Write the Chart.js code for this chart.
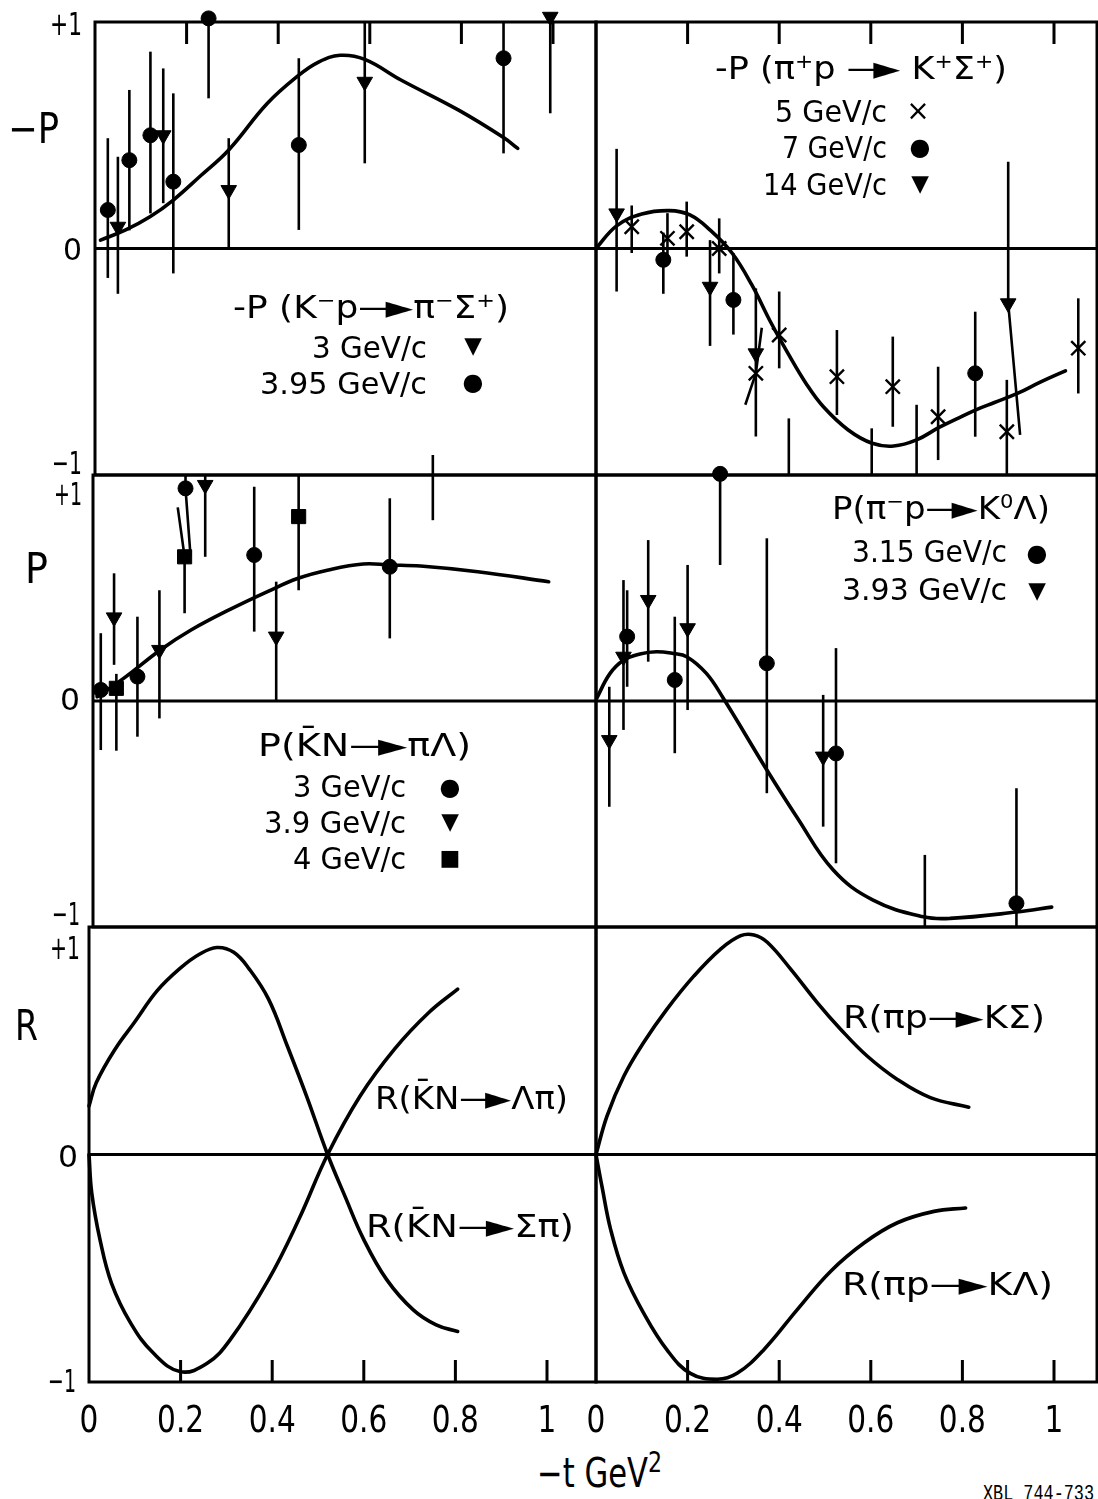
<!DOCTYPE html>
<html>
<head>
<meta charset="utf-8">
<script src="https://cdn.jsdelivr.net/npm/chart.js@4.4.1/dist/chart.umd.min.js"></script>
<style>
  html, body { margin: 0; padding: 0; background: #fff; }
  #page { position: relative; width: 1098px; height: 1499px; overflow: hidden; background: #fff; }
  #page canvas { position: absolute; }
  .t { position: absolute; white-space: nowrap; font-family: "DejaVu Sans", sans-serif; color: #000;
       line-height: 1; transform-origin: 0 50%; }
  .t sup { font-size: 0.62em; position: relative; top: -0.55em; vertical-align: baseline; line-height: 0; }
  .t sup.big { font-size: 0.72em; top: -0.5em; }
  .dash { margin-right: -0.24em; }
  .mk { position: absolute; font-family: "DejaVu Sans", sans-serif; line-height: 1; color: #000;
        transform: translate(-50%, -50%); }
</style>
</head>
<body>
<div id="page"></div>
<script>
const INK = '#000';

// ---------- x ticks (-t, GeV^2) ----------
const tickMarks = [0.2, 0.4, 0.6, 0.8, 1.0];
const tickVals  = [0, 0.2, 0.4, 0.6, 0.8, 1.0];
const tickText  = ['0', '0.2', '0.4', '0.6', '0.8', '1'];

// ---------- -P(K- p -> pi- Sigma+) ----------
// 3 GeV/c (triangles)
const km3T  = [0.050, 0.149, 0.292, 0.589, 0.994];
const km3P  = [0.096, 0.500, 0.258, 0.736, 1.023];
const km3Hi = [0.405, 0.795, 0.487, 1.000, 1.040];
const km3Lo = [-0.200, 0.200, 0.000, 0.376, 0.597];
// 3.95 GeV/c (circles)
const km395T  = [0.028, 0.075, 0.121, 0.171, 0.248, 0.445, 0.892];
const km395P  = [0.170, 0.390, 0.500, 0.295, 1.016, 0.457, 0.840];
const km395Hi = [0.487, 0.700, 0.869, 0.685, 1.040, 0.840, 1.000];
const km395Lo = [-0.130, 0.080, 0.155, -0.110, 0.663, 0.082, 0.420];
// model curve
const kmFitT = [0.012, 0.067, 0.120, 0.171, 0.230, 0.292, 0.376, 0.445, 0.487, 0.535, 0.589, 0.668, 0.794, 0.892, 0.923];
const kmFitP = [0.037, 0.082, 0.140, 0.214, 0.320, 0.435, 0.640, 0.765, 0.822, 0.853, 0.835, 0.744, 0.611, 0.490, 0.442];

// ---------- -P(pi+ p -> K+ Sigma+) ----------
// 5 GeV/c (crosses)
const pp5T   = [0.078, 0.156, 0.198, 0.269, 0.349, 0.400, 0.526, 0.648, 0.747, 0.897, 1.053];
const pp5P   = [0.096, 0.045, 0.074, 0.000, -0.551, -0.382, -0.566, -0.610, -0.743, -0.809, -0.440];
const pp5Hi  = [0.190, 0.156, 0.207, 0.133, -0.350, -0.190, -0.360, -0.389, -0.522, -0.580, -0.220];
const pp5Lo  = [-0.020, -0.030, -0.036, -0.110, -0.690, -0.529, -0.735, -0.787, -0.934, -1.000, -0.640];
const pp5HiT = [null, null, null, null, 0.362, null, null, null, null, null, null];
const pp5LoT = [null, null, null, null, 0.326, null, null, null, null, null, null];
// 7 GeV/c (circles)
const pp7T  = [0.147, 0.300, 0.828];
const pp7P  = [-0.050, -0.227, -0.551];
const pp7Hi = [0.070, -0.020, -0.279];
const pp7Lo = [-0.200, -0.380, -0.831];
// 14 GeV/c (triangles)
const pp14T   = [0.045, 0.249, 0.349, 0.900];
const pp14P   = [0.155, -0.169, -0.463, -0.242];
const pp14Hi  = [0.440, 0.037, -0.176, 0.383];
const pp14Lo  = [-0.190, -0.430, -0.830, -0.823];
const pp14LoT = [null, null, null, 0.926];
// error bars whose points fall below -1
const ppOffT  = [0.421, 0.602, 0.700];
const ppOffHi = [-0.750, -0.794, -0.690];
const ppOffLo = [-1.000, -1.000, -1.000];
// model curve
const ppFitT = [0, 0.045, 0.100, 0.160, 0.205, 0.250, 0.297, 0.340, 0.380, 0.417, 0.460, 0.497, 0.550, 0.603, 0.650, 0.700, 0.749, 0.800, 0.832, 0.870, 0.920, 0.970, 1.025];
const ppFitP = [0, 0.100, 0.152, 0.167, 0.148, 0.080, -0.020, -0.160, -0.320, -0.455, -0.600, -0.700, -0.800, -0.860, -0.872, -0.845, -0.790, -0.740, -0.710, -0.680, -0.640, -0.590, -0.540];

// ---------- P(Kbar N -> pi Lambda) ----------
// 3 GeV/c (circles)
const kb3T   = [0.017, 0.097, 0.202, 0.352, 0.648];
const kb3P   = [0.049, 0.108, 0.941, 0.646, 0.594];
const kb3Hi  = [0.300, 0.373, 1.000, 0.948, 0.897];
const kb3Lo  = [-0.217, -0.158, 0.640, 0.307, 0.277];
const kb3LoT = [null, null, 0.213, null, null];
// 3.9 GeV/c (triangles)
const kb39T  = [0.046, 0.145, 0.245, 0.400, 0.742];
const kb39P  = [0.370, 0.226, 0.956, 0.285, 1.060];
const kb39Hi = [0.565, 0.490, 1.000, 0.528, 1.090];
const kb39Lo = [0.160, -0.077, 0.638, 0.000, 0.800];
// 4 GeV/c (squares)
const kb4T   = [0.051, 0.200, 0.449];
const kb4P   = [0.056, 0.638, 0.816];
const kb4Hi  = [0.120, 0.857, 1.000];
const kb4Lo  = [-0.220, 0.388, 0.490];
const kb4HiT = [null, 0.185, null];
// model curve
const kbFitT = [0.009, 0.072, 0.147, 0.214, 0.297, 0.381, 0.448, 0.514, 0.590, 0.648, 0.715, 0.840, 0.995];
const kbFitP = [0.019, 0.108, 0.226, 0.314, 0.403, 0.484, 0.543, 0.580, 0.606, 0.602, 0.597, 0.572, 0.528];

// ---------- P(pi- p -> K0 Lambda) ----------
// 3.15 GeV/c (circles)
const pm315T  = [0.068, 0.172, 0.271, 0.373, 0.524, 0.918];
const pm315P  = [0.285, 0.093, 1.005, 0.167, -0.232, -0.895];
const pm315Hi = [0.490, 0.373, 1.000, 0.720, 0.234, -0.386];
const pm315Lo = [0.063, -0.231, 0.602, -0.408, -0.718, -1.000];
// 3.93 GeV/c (triangles)
const pm393T  = [0.029, 0.060, 0.114, 0.200, 0.496];
const pm393P  = [-0.173, 0.196, 0.447, 0.322, -0.246];
const pm393Hi = [0.063, 0.535, 0.712, 0.602, 0.027];
const pm393Lo = [-0.468, -0.128, 0.174, -0.040, -0.556];
// error bar whose point falls below -1
const pmOffT  = [0.718];
const pmOffHi = [-0.681];
const pmOffLo = [-1.000];
// model curve
const pmFitT = [0.0015, 0.030, 0.060, 0.096, 0.132, 0.169, 0.198, 0.241, 0.278, 0.373, 0.438, 0.518, 0.605, 0.715, 0.773, 0.918, 0.995];
const pmFitP = [0.012, 0.120, 0.180, 0.208, 0.218, 0.210, 0.196, 0.122, 0.012, -0.305, -0.512, -0.748, -0.881, -0.955, -0.962, -0.934, -0.912];

// ---------- R parameter curves ----------
const rSigT = [0, 0.016, 0.057, 0.099, 0.149, 0.200, 0.241, 0.279, 0.316, 0.350, 0.392, 0.433, 0.475, 0.521, 0.559, 0.600, 0.650, 0.708, 0.758, 0.805];
const rSigR = [0.213, 0.316, 0.463, 0.580, 0.720, 0.820, 0.880, 0.910, 0.889, 0.815, 0.683, 0.477, 0.257, 0, -0.184, -0.374, -0.550, -0.683, -0.749, -0.778];
const rLamT = [0, 0.006, 0.024, 0.049, 0.091, 0.141, 0.200, 0.258, 0.308, 0.392, 0.458, 0.521, 0.592, 0.667, 0.742, 0.805];
const rLamR = [0, -0.169, -0.374, -0.565, -0.741, -0.874, -0.955, -0.918, -0.815, -0.550, -0.286, 0, 0.257, 0.463, 0.624, 0.727];
const rKSigT = [0, 0.024, 0.061, 0.104, 0.155, 0.214, 0.272, 0.316, 0.345, 0.374, 0.425, 0.483, 0.534, 0.592, 0.658, 0.730, 0.814];
const rKSigR = [0, 0.169, 0.345, 0.492, 0.639, 0.785, 0.903, 0.962, 0.965, 0.933, 0.815, 0.668, 0.551, 0.433, 0.330, 0.250, 0.208];
const rKLamT = [0, 0.013, 0.032, 0.061, 0.104, 0.155, 0.206, 0.265, 0.308, 0.366, 0.439, 0.512, 0.585, 0.658, 0.738, 0.807];
const rKLamR = [0, -0.140, -0.330, -0.520, -0.697, -0.859, -0.962, -0.988, -0.962, -0.859, -0.683, -0.514, -0.389, -0.300, -0.250, -0.235];

// ---------- helpers ----------
const page = document.getElementById('page');
const PX_PER_T = 458;

function pts(T, V) { return T.map((t, i) => ({ x: t, y: V[i] })); }

const STYLE = {
  dot:   { pointStyle: 'circle',   pointRadius: 7.5, pointRotation: 0,   pointBorderWidth: 1 },
  down:  { pointStyle: 'triangle', pointRadius: 9,   pointRotation: 180, pointBorderWidth: 1 },
  box:   { pointStyle: 'rect',     pointRadius: 10,  pointRotation: 0,   pointBorderWidth: 1 },
  cross: { pointStyle: 'crossRot', pointRadius: 10,  pointRotation: 0,   pointBorderWidth: 2.4 },
  none:  { pointStyle: 'circle',   pointRadius: 0,   pointRotation: 0,   pointBorderWidth: 0 }
};

function marks(kind, T, V, hi, lo, hiT, loT) {
  return Object.assign({
    data: pts(T, V), showLine: false, clip: false,
    pointBackgroundColor: INK, pointBorderColor: INK, pointHoverRadius: 0,
    errHi: hi, errLo: lo, errHiT: hiT || null, errLoT: loT || null
  }, STYLE[kind]);
}

function curve(T, V) {
  return {
    data: pts(T, V), showLine: true, clip: false, fill: false,
    borderColor: INK, borderWidth: 3.6, pointRadius: 0, pointHoverRadius: 0,
    tension: 0.4, borderCapStyle: 'round', borderJoinStyle: 'round'
  };
}

// frame, zero line, inward ticks, error bars and x tick labels
const panelPlugin = {
  id: 'panel',
  beforeDatasetsDraw(chart, _args, o) {
    const { ctx, chartArea: a } = chart;
    const sx = chart.scales.x, sy = chart.scales.y;
    ctx.save();
    ctx.strokeStyle = INK;
    ctx.lineCap = 'butt';
    ctx.lineWidth = 3;
    ctx.strokeRect(a.left, a.top, a.right - a.left, a.bottom - a.top);
    const y0 = sy.getPixelForValue(0);
    ctx.beginPath(); ctx.moveTo(a.left, y0); ctx.lineTo(a.right, y0); ctx.stroke();
    if (o.ticks) {
      const edge = o.ticks === 'top' ? a.top : a.bottom;
      const dir = o.ticks === 'top' ? 1 : -1;
      ctx.beginPath();
      tickMarks.forEach(v => {
        const px = sx.getPixelForValue(v);
        ctx.moveTo(px, edge); ctx.lineTo(px, edge + dir * 22);
      });
      ctx.stroke();
    }
    ctx.lineWidth = 2.6;
    chart.data.datasets.forEach(ds => {
      if (!ds.errHi) return;
      ds.data.forEach((p, i) => {
        const tH = ds.errHiT && ds.errHiT[i] != null ? ds.errHiT[i] : p.x;
        const tL = ds.errLoT && ds.errLoT[i] != null ? ds.errLoT[i] : p.x;
        ctx.beginPath();
        ctx.moveTo(sx.getPixelForValue(tH), sy.getPixelForValue(ds.errHi[i]));
        ctx.lineTo(sx.getPixelForValue(p.x), sy.getPixelForValue(p.y));
        ctx.lineTo(sx.getPixelForValue(tL), sy.getPixelForValue(ds.errLo[i]));
        ctx.stroke();
      });
    });
    ctx.restore();
  },
  afterDraw(chart, _args, o) {
    if (!o.labels) return;
    const { ctx, chartArea: a } = chart;
    const sx = chart.scales.x;
    ctx.save();
    ctx.fillStyle = INK;
    ctx.font = '37px "DejaVu Sans", sans-serif';
    ctx.textAlign = 'center';
    ctx.textBaseline = 'alphabetic';
    tickVals.forEach((v, i) => {
      ctx.save();
      ctx.translate(sx.getPixelForValue(v), a.bottom + 50);
      ctx.scale(0.8, 1);
      ctx.fillText(tickText[i], 0, 0);
      ctx.restore();
    });
    ctx.restore();
  }
};

function makePanel(fr, datasets, opts) {
  const pad = 20, padB = opts.labels ? 62 : 20;
  const w = fr.r - fr.l + 2 * pad, h = fr.b - fr.t + pad + padB;
  const c = document.createElement('canvas');
  c.width = w; c.height = h;
  c.style.left = (fr.l - pad) + 'px'; c.style.top = (fr.t - pad) + 'px';
  c.style.width = w + 'px'; c.style.height = h + 'px';
  page.appendChild(c);
  return new Chart(c, {
    type: 'scatter',
    data: { datasets },
    plugins: [panelPlugin],
    options: {
      responsive: false, animation: false, devicePixelRatio: 1, events: [],
      layout: { autoPadding: false, padding: { left: pad, right: pad, top: pad, bottom: padB } },
      scales: {
        x: { type: 'linear', min: 0, max: (fr.r - fr.l) / PX_PER_T, display: false },
        y: { type: 'linear', min: -1, max: 1, display: false }
      },
      plugins: { legend: { display: false }, tooltip: { enabled: false }, panel: opts }
    }
  });
}

// ---------- panels ----------
makePanel({ l: 95, r: 596, t: 22, b: 475 }, [
  marks('down', km3T, km3P, km3Hi, km3Lo),
  marks('dot', km395T, km395P, km395Hi, km395Lo),
  curve(kmFitT, kmFitP)
], { ticks: 'top' });

makePanel({ l: 596, r: 1097, t: 22, b: 475 }, [
  marks('none', ppOffT, ppOffLo, ppOffHi, ppOffLo),
  marks('cross', pp5T, pp5P, pp5Hi, pp5Lo, pp5HiT, pp5LoT),
  marks('dot', pp7T, pp7P, pp7Hi, pp7Lo),
  marks('down', pp14T, pp14P, pp14Hi, pp14Lo, null, pp14LoT),
  curve(ppFitT, ppFitP)
], { ticks: 'top' });

makePanel({ l: 93, r: 596, t: 475, b: 927 }, [
  marks('dot', kb3T, kb3P, kb3Hi, kb3Lo, null, kb3LoT),
  marks('down', kb39T, kb39P, kb39Hi, kb39Lo),
  marks('box', kb4T, kb4P, kb4Hi, kb4Lo, kb4HiT),
  curve(kbFitT, kbFitP)
], {});

makePanel({ l: 596, r: 1097, t: 475, b: 927 }, [
  marks('none', pmOffT, pmOffLo, pmOffHi, pmOffLo),
  marks('dot', pm315T, pm315P, pm315Hi, pm315Lo),
  marks('down', pm393T, pm393P, pm393Hi, pm393Lo),
  curve(pmFitT, pmFitP)
], {});

makePanel({ l: 89, r: 596, t: 927, b: 1382 }, [
  curve(rSigT, rSigR),
  curve(rLamT, rLamR)
], { ticks: 'bottom', labels: true });

makePanel({ l: 596, r: 1097, t: 927, b: 1382 }, [
  curve(rKSigT, rKSigR),
  curve(rKLamT, rKLamR)
], { ticks: 'bottom', labels: true });

// ---------- text ----------
function put(html, x0, x1, cy, size, family) {
  const el = document.createElement('div');
  el.className = 't';
  el.innerHTML = html;
  el.style.fontSize = size + 'px';
  if (family) el.style.fontFamily = family;
  el.style.left = x0 + 'px';
  el.style.top = (cy - size * 0.48) + 'px';
  page.appendChild(el);
  const w = el.getBoundingClientRect().width;
  el.style.transform = 'scaleX(' + ((x1 - x0) / w).toFixed(4) + ')';
}
function mark(ch, cx, cy, size) {
  const el = document.createElement('div');
  el.className = 'mk';
  el.textContent = ch;
  el.style.fontSize = size + 'px';
  el.style.left = cx + 'px';
  el.style.top = cy + 'px';
  page.appendChild(el);
}
const ARR = '<span class="dash">—</span>►';
const KBAR = 'K\u0304';

// axis values and titles
put('+1', 50, 82, 23, 32);   put('−P', 8, 59, 128, 42);  put('0', 63, 82, 249, 30);   put('−1', 52, 82, 462, 32);
put('+1', 54, 82, 493, 32);  put('P', 25, 48, 568, 42);  put('0', 60, 80, 699, 30);   put('−1', 52, 80, 913, 32);
put('+1', 50, 80, 947, 32);  put('R', 15, 38, 1025, 42); put('0', 58, 78, 1156, 30);  put('−1', 48, 76, 1380, 32);

// panel legends
put('-P (π<sup>+</sup>p ' + ARR + ' K<sup>+</sup>Σ<sup>+</sup>)', 715, 1007, 67, 32);
put('5 GeV/c', 775, 887, 111, 30);   mark('×', 918, 111, 28);
put('7 GeV/c', 782, 887, 147, 30);   mark('●', 920, 147, 24);
put('14 GeV/c', 763, 887, 184, 30);  mark('▼', 920, 183, 23);

put('-P (K<sup>−</sup>p' + ARR + 'π<sup>−</sup>Σ<sup>+</sup>)', 233, 509, 306, 32);
put('3 GeV/c', 312, 427, 347, 30);     mark('▼', 473, 345, 23);
put('3.95 GeV/c', 260, 427, 383, 30);  mark('●', 473, 382, 24);

put('P(π<sup>−</sup>p' + ARR + 'K<sup>0</sup>Λ)', 832, 1050, 507, 32);
put('3.15 GeV/c', 852, 1007, 551, 30); mark('●', 1037, 553, 24);
put('3.93 GeV/c', 842, 1007, 589, 30); mark('▼', 1037, 590, 23);

put('P(' + KBAR + 'N' + ARR + 'πΛ)', 258, 471, 744, 32);
put('3 GeV/c', 293, 406, 786, 30);    mark('●', 450, 787, 24);
put('3.9 GeV/c', 264, 406, 822, 30);  mark('▼', 450, 821, 23);
put('4 GeV/c', 293, 406, 858, 30);    mark('■', 450, 858, 22);

put('R(' + KBAR + 'N' + ARR + 'Λπ)', 375, 568, 1097, 32);
put('R(' + KBAR + 'N' + ARR + 'Σπ)', 366, 574, 1225, 32);
put('R(πp' + ARR + 'KΣ)', 843, 1045, 1016, 32);
put('R(πp' + ARR + 'KΛ)', 842, 1053, 1283, 32);

// x axis title and figure number
put('−t GeV<sup class="big">2</sup>', 537, 662, 1472, 40);
put('XBL 744-733', 983, 1094, 1495, 22, '"Liberation Mono", monospace');
</script>
</body>
</html>
